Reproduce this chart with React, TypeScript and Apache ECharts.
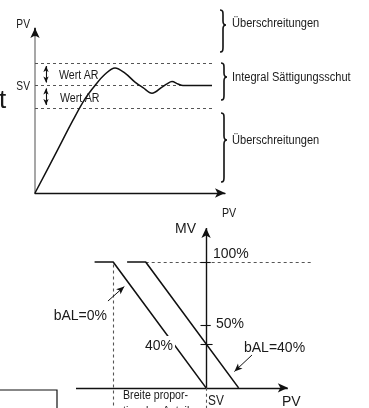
import React, { useEffect, useRef } from "react";
import * as echarts from "echarts";

// Top chart: PV over time
const TIME = [0, 20, 38, 50, 60, 70, 80, 90, 100, 108, 117, 127, 132, 137, 143, 148, 177];
const PV = [0, 34, 65, 84, 96, 106, 111.6, 107, 99, 94, 89, 94.6, 97.5, 99.5, 97.3, 96, 96];
const SV_TOP = 96;
const AR = 20;

// Bottom chart: MV vs PV
const BAL0_X = [-120, -100, 0];
const BAL0_Y = [100, 100, 0];
const BAL40_X = [-85, -65, 35];
const BAL40_Y = [100, 100, 0];
const MV_TICKS = [100, 50, 35];

const SANS = '"Liberation Sans", Arial, sans-serif';
const NARROW_SCALE = 0.82;

function bracePath(h: number, t: number): string {
  return `M0,0 C3,0 3,2 3,5 L3,${t - 4} C3,${t - 1} 4,${t} 6,${t} C4,${t} 3,${t + 1} 3,${t + 4} L3,${h - 5} C3,${h - 2} 3,${h} 0,${h}`;
}

let registered = false;
function registerBraces() {
  if (registered) return;
  registered = true;
  echarts.graphic.registerShape("brace1", echarts.graphic.extendPath(bracePath(42, 15), {}) as any);
  echarts.graphic.registerShape("brace2", echarts.graphic.extendPath(bracePath(37, 14), {}) as any);
  echarts.graphic.registerShape("brace3", echarts.graphic.extendPath(bracePath(69, 27), {}) as any);
}

function txt(text: string, x: number, y: number, size: number, narrow: boolean, extra: any = {}) {
  return {
    type: "text",
    z: 100,
    x,
    y,
    scaleX: narrow ? NARROW_SCALE : 1,
    style: {
      text,
      x: 0,
      y: 0,
      fontSize: size,
      fontFamily: SANS,
      fill: "#1a1a1a",
      verticalAlign: "middle",
      align: "left",
      ...extra,
    },
  };
}

export default function App() {
  const ref = useRef<HTMLDivElement>(null);
  useEffect(() => {
    document.body.style.margin = "0";
    registerBraces();
    const chart = echarts.init(ref.current!, null, { renderer: "svg" });
    const dashed = { type: [3, 3], color: "#555", width: 1.1 };
    const black = { type: "solid", color: "#111", width: 1.1 };
    const tickLine = { type: "solid", color: "#111", width: 1.1 };
    const option: any = {
      animation: false,
      grid: [
        { left: 35, top: 28, width: 190, height: 165 },
        { left: 76, right: 57, top: 223, bottom: 0 },
      ],
      xAxis: [
        {
          gridIndex: 0,
          type: "value",
          min: 0,
          max: 190,
          axisLine: { show: true, symbol: ["none", "arrow"], symbolSize: [7, 10], lineStyle: { color: "#111", width: 1.3 } },
          axisTick: { show: false },
          axisLabel: { show: false },
          splitLine: { show: false },
        },
        { gridIndex: 1, type: "value", min: -140, max: 114, show: false },
      ],
      yAxis: [
        {
          gridIndex: 0,
          type: "value",
          min: 0,
          max: 147.3,
          axisLine: { show: true, lineStyle: { color: "#8a8a8a", width: 1.5 } },
          axisTick: { show: false },
          axisLabel: { show: false },
          splitLine: { show: false },
        },
        { gridIndex: 1, type: "value", min: -16, max: 131, show: false },
      ],
      series: [
        {
          type: "line",
          xAxisIndex: 0,
          yAxisIndex: 0,
          data: TIME.map((t, i) => [t, PV[i]]),
          smooth: 0.35,
          symbol: "none",
          lineStyle: { color: "#111", width: 1.5 },
          z: 5,
          markLine: {
            silent: true,
            symbol: ["none", "none"],
            label: { show: false },
            z: 3,
            data: [
              [{ coord: [0, SV_TOP + AR], lineStyle: dashed }, { coord: [177, SV_TOP + AR] }],
              [{ coord: [0, SV_TOP], lineStyle: dashed }, { coord: [177, SV_TOP] }],
              [{ coord: [0, SV_TOP - AR], lineStyle: dashed }, { coord: [177, SV_TOP - AR] }],
              [
                { coord: [11, SV_TOP + AR - 2.6], symbol: "arrow", symbolSize: [4, 6], lineStyle: black },
                { coord: [11, SV_TOP + 2.6], symbol: "arrow", symbolSize: [4, 6] },
              ],
              [
                { coord: [11, SV_TOP - 2.6], symbol: "arrow", symbolSize: [4, 6], lineStyle: black },
                { coord: [11, SV_TOP - AR + 2.6], symbol: "arrow", symbolSize: [4, 6] },
              ],
              [
                { coord: [0, 140], symbol: "none", lineStyle: { type: "solid", color: "#111", width: 1.5 } },
                { coord: [0, 147.3], symbol: "arrow", symbolSize: [7, 10] },
              ],
            ],
          },
        },
        {
          name: "bAL=0%",
          type: "line",
          xAxisIndex: 1,
          yAxisIndex: 1,
          data: BAL0_X.map((x, i) => [x, BAL0_Y[i]]),
          symbol: "none",
          lineStyle: { color: "#111", width: 1.6 },
          z: 5,
          markLine: {
            silent: true,
            symbol: ["none", "none"],
            label: { show: false },
            data: [
              [{ coord: [-140, 0], lineStyle: { type: "solid", color: "#111", width: 1.4 } }, { coord: [88, 0], symbol: "arrow", symbolSize: [7, 10] }],
              [{ coord: [0, 0], lineStyle: { type: "solid", color: "#111", width: 1.4 } }, { coord: [0, 127], symbol: "arrow", symbolSize: [7, 10] }],
              [{ coord: [0, 0], lineStyle: dashed }, { coord: [0, -16] }],
              [{ coord: [-100, 98], lineStyle: dashed }, { coord: [-100, -16] }],
              [{ coord: [-65, 100], lineStyle: dashed }, { coord: [114, 100] }],
              ...MV_TICKS.map((v) => [
                { coord: [-6, v], lineStyle: tickLine },
                { coord: [v === 35 ? 7 : 5, v] },
              ]),
              [
                { coord: [-105.6, 69], lineStyle: { type: "solid", color: "#111", width: 1 } },
                { coord: [-88, 80.5], symbol: "arrow", symbolSize: [5, 8] },
              ],
              [
                { coord: [49.4, 26.1], lineStyle: { type: "solid", color: "#111", width: 1 } },
                { coord: [30.5, 13], symbol: "arrow", symbolSize: [5, 8] },
              ],
            ],
          },
        },
        {
          name: "bAL=40%",
          type: "line",
          xAxisIndex: 1,
          yAxisIndex: 1,
          data: BAL40_X.map((x, i) => [x, BAL40_Y[i]]),
          symbol: "none",
          lineStyle: { color: "#111", width: 1.6 },
          z: 5,
        },
      ],
      graphic: [
        txt("t", -1, 99, 26, false),
        txt("PV", 30, 24, 12.5, true, { align: "right" }),
        txt("SV", 30, 86, 12.5, true, { align: "right" }),
        txt("Wert AR", 59, 75, 13, true),
        txt("Wert AR", 60, 98, 13, true),
        { type: "brace1", x: 220, y: 10, z: 100, style: { stroke: "#111", fill: "none", lineWidth: 1.6 } },
        { type: "brace2", x: 221, y: 63, z: 100, style: { stroke: "#111", fill: "none", lineWidth: 1.6 } },
        { type: "brace3", x: 221, y: 113, z: 100, style: { stroke: "#111", fill: "none", lineWidth: 1.6 } },
        txt("Überschreitungen", 232, 23, 13.5, true),
        txt("Integral Sättigungsschut", 232, 77, 13.5, true),
        txt("Überschreitungen", 232, 140, 13.5, true),
        txt("PV", 222, 213, 13, true),
        txt("MV", 175, 228, 14, false),
        txt("100%", 213, 253, 14, false),
        txt("50%", 216, 323, 14, false),
        txt("bAL=40%", 244, 347, 14, false),
        txt("bAL=0%", 107, 315, 14, false, { align: "right" }),
        txt("40%", 143, 345, 14, false, { backgroundColor: "#fff", padding: [2, 2] }),
        txt("SV", 208, 400, 14.5, true),
        txt("PV", 282, 401, 14, false),
        txt("Breite propor-", 123, 395, 13, true),
        txt("tionalen Anteils", 123, 411, 13, true),
        { type: "rect", z: 100, shape: { x: -10, y: 390, width: 67, height: 40 }, style: { stroke: "#111", fill: "none", lineWidth: 1.2 } },
      ],
    };
    chart.setOption(option);
    return () => chart.dispose();
  }, []);
  return <div ref={ref} style={{ position: "fixed", left: 0, top: 0, width: 369, height: 408 }} />;
}
